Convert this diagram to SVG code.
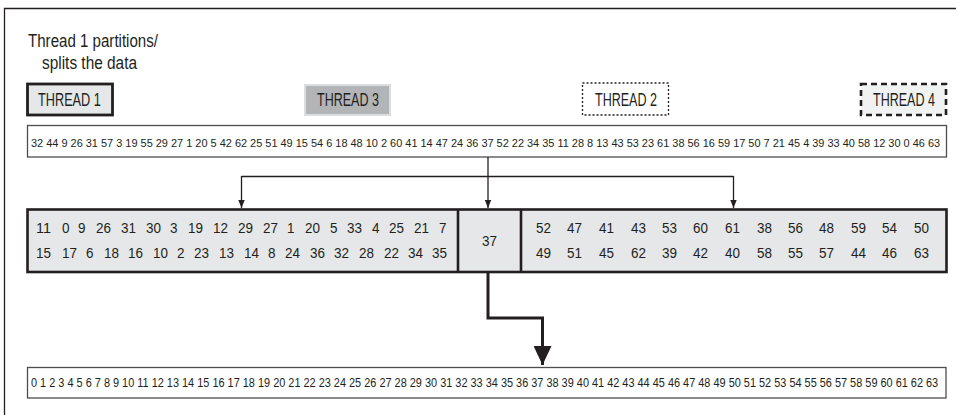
<svg xmlns="http://www.w3.org/2000/svg" width="959" height="415" viewBox="0 0 959 415">
<style>
text{font-family:"Liberation Sans",Arial,sans-serif;fill:#231f20}
.lbl{font-size:18.5px}
.th{font-size:19px}
.arr{font-size:11.5px}
.num{font-size:15.5px}
.thin{fill:none;stroke:#231f20;stroke-width:1.3}
.thick{fill:none;stroke:#231f20;stroke-width:3}
</style>
<defs>
<marker id="ah" viewBox="0 -5 10 10" refX="10" refY="0" markerWidth="10" markerHeight="8" markerUnits="userSpaceOnUse" orient="auto">
<path d="M0,-4 L10,0 L0,4 z" fill="#231f20"/>
</marker>
<marker id="ahBig" viewBox="0 -9 19 18" refX="19" refY="0" markerWidth="19" markerHeight="18" markerUnits="userSpaceOnUse" orient="auto">
<path d="M0,-9 L19,0 L0,9 z" fill="#231f20"/>
</marker>
</defs>
<rect width="959" height="415" fill="#fff"/>
<g id="frame">
<path d="M4.5,415 V8.5 H956" fill="none" stroke="#231f20" stroke-width="1.3"/>
</g>
<g id="caption">
<text class="lbl" transform="translate(28,47) scale(0.816,1)">Thread 1 partitions/</text>
<text class="lbl" transform="translate(42,68.5) scale(0.833,1)">splits the data</text>
</g>
<g id="thread1">
<rect x="27.5" y="84" width="85" height="31" fill="#e6e7e8" stroke="#231f20" stroke-width="2.8"/>
<text class="th" transform="translate(38,106) scale(0.67,1)">THREAD 1</text>
</g>
<g id="thread3">
<rect x="305" y="85" width="85" height="30" fill="#b2b4b6" stroke="#dcdddf" stroke-width="2"/>
<text class="th" transform="translate(317,106) scale(0.66,1)">THREAD 3</text>
</g>
<g id="thread2">
<rect x="582.5" y="83" width="86" height="32" fill="#fff" stroke="#231f20" stroke-width="1.3" stroke-dasharray="2 2"/>
<text class="th" transform="translate(595,106) scale(0.66,1)">THREAD 2</text>
</g>
<g id="thread4">
<rect x="861" y="84" width="85" height="31" fill="#f1f2f2" stroke="#231f20" stroke-width="2.6" stroke-dasharray="6 4"/>
<text class="th" transform="translate(873,106) scale(0.66,1)">THREAD 4</text>
</g>
<g id="input-array">
<rect x="27.5" y="125.5" width="919" height="31.5" fill="#fff" stroke="#4d4d4f" stroke-width="1.3"/>
<text class="arr" transform="translate(31,147) scale(0.953,1)">32 44 9 26 31 57 3 19 55 29 27 1 20 5 42 62 25 51 49 15 54 6 18 48 10 2 60 41 14 47 24 36 37 52 22 34 35 11 28 8 13 43 53 23 61 38 56 16 59 17 50 7 21 45 4 39 33 40 58 12 30 0 46 63</text>
</g>
<g id="partitions">
<rect x="27.5" y="209.5" width="919" height="62.5" fill="#e6e7e8" stroke="#231f20" stroke-width="2.6"/>
<line x1="458" y1="209.5" x2="458" y2="272" stroke="#231f20" stroke-width="2.6"/>
<line x1="521" y1="209.5" x2="521" y2="272" stroke="#231f20" stroke-width="2.6"/>
</g>
<g id="left-partition">
<text class="num" x="36" y="233" textLength="15" lengthAdjust="spacingAndGlyphs">11</text>
<text class="num" x="62" y="233" textLength="7.5" lengthAdjust="spacingAndGlyphs">0</text>
<text class="num" x="78" y="233" textLength="7.5" lengthAdjust="spacingAndGlyphs">9</text>
<text class="num" x="96" y="233" textLength="15" lengthAdjust="spacingAndGlyphs">26</text>
<text class="num" x="121" y="233" textLength="15" lengthAdjust="spacingAndGlyphs">31</text>
<text class="num" x="146" y="233" textLength="15" lengthAdjust="spacingAndGlyphs">30</text>
<text class="num" x="170" y="233" textLength="7.5" lengthAdjust="spacingAndGlyphs">3</text>
<text class="num" x="188" y="233" textLength="15" lengthAdjust="spacingAndGlyphs">19</text>
<text class="num" x="213" y="233" textLength="15" lengthAdjust="spacingAndGlyphs">12</text>
<text class="num" x="238" y="233" textLength="15" lengthAdjust="spacingAndGlyphs">29</text>
<text class="num" x="263" y="233" textLength="15" lengthAdjust="spacingAndGlyphs">27</text>
<text class="num" x="287" y="233" textLength="7.5" lengthAdjust="spacingAndGlyphs">1</text>
<text class="num" x="305" y="233" textLength="15" lengthAdjust="spacingAndGlyphs">20</text>
<text class="num" x="330" y="233" textLength="7.5" lengthAdjust="spacingAndGlyphs">5</text>
<text class="num" x="347" y="233" textLength="15" lengthAdjust="spacingAndGlyphs">33</text>
<text class="num" x="372" y="233" textLength="7.5" lengthAdjust="spacingAndGlyphs">4</text>
<text class="num" x="389" y="233" textLength="15" lengthAdjust="spacingAndGlyphs">25</text>
<text class="num" x="414" y="233" textLength="15" lengthAdjust="spacingAndGlyphs">21</text>
<text class="num" x="439" y="233" textLength="7.5" lengthAdjust="spacingAndGlyphs">7</text>
<text class="num" x="36" y="258" textLength="15" lengthAdjust="spacingAndGlyphs">15</text>
<text class="num" x="62" y="258" textLength="15" lengthAdjust="spacingAndGlyphs">17</text>
<text class="num" x="86" y="258" textLength="7.5" lengthAdjust="spacingAndGlyphs">6</text>
<text class="num" x="104" y="258" textLength="15" lengthAdjust="spacingAndGlyphs">18</text>
<text class="num" x="128" y="258" textLength="15" lengthAdjust="spacingAndGlyphs">16</text>
<text class="num" x="153" y="258" textLength="15" lengthAdjust="spacingAndGlyphs">10</text>
<text class="num" x="177" y="258" textLength="7.5" lengthAdjust="spacingAndGlyphs">2</text>
<text class="num" x="194" y="258" textLength="15" lengthAdjust="spacingAndGlyphs">23</text>
<text class="num" x="219" y="258" textLength="15" lengthAdjust="spacingAndGlyphs">13</text>
<text class="num" x="244" y="258" textLength="15" lengthAdjust="spacingAndGlyphs">14</text>
<text class="num" x="268" y="258" textLength="7.5" lengthAdjust="spacingAndGlyphs">8</text>
<text class="num" x="285" y="258" textLength="15" lengthAdjust="spacingAndGlyphs">24</text>
<text class="num" x="310" y="258" textLength="15" lengthAdjust="spacingAndGlyphs">36</text>
<text class="num" x="334" y="258" textLength="15" lengthAdjust="spacingAndGlyphs">32</text>
<text class="num" x="359" y="258" textLength="15" lengthAdjust="spacingAndGlyphs">28</text>
<text class="num" x="384" y="258" textLength="15" lengthAdjust="spacingAndGlyphs">22</text>
<text class="num" x="408" y="258" textLength="15" lengthAdjust="spacingAndGlyphs">34</text>
<text class="num" x="432" y="258" textLength="15" lengthAdjust="spacingAndGlyphs">35</text>
</g>
<g id="pivot">
<text class="num" x="482" y="246" textLength="15" lengthAdjust="spacingAndGlyphs">37</text>
</g>
<g id="right-partition">
<text class="num" x="536" y="233" textLength="15" lengthAdjust="spacingAndGlyphs">52</text>
<text class="num" x="567" y="233" textLength="15" lengthAdjust="spacingAndGlyphs">47</text>
<text class="num" x="599" y="233" textLength="15" lengthAdjust="spacingAndGlyphs">41</text>
<text class="num" x="631" y="233" textLength="15" lengthAdjust="spacingAndGlyphs">43</text>
<text class="num" x="662" y="233" textLength="15" lengthAdjust="spacingAndGlyphs">53</text>
<text class="num" x="693" y="233" textLength="15" lengthAdjust="spacingAndGlyphs">60</text>
<text class="num" x="725" y="233" textLength="15" lengthAdjust="spacingAndGlyphs">61</text>
<text class="num" x="757" y="233" textLength="15" lengthAdjust="spacingAndGlyphs">38</text>
<text class="num" x="788" y="233" textLength="15" lengthAdjust="spacingAndGlyphs">56</text>
<text class="num" x="819" y="233" textLength="15" lengthAdjust="spacingAndGlyphs">48</text>
<text class="num" x="851" y="233" textLength="15" lengthAdjust="spacingAndGlyphs">59</text>
<text class="num" x="882" y="233" textLength="15" lengthAdjust="spacingAndGlyphs">54</text>
<text class="num" x="914" y="233" textLength="15" lengthAdjust="spacingAndGlyphs">50</text>
<text class="num" x="536" y="258" textLength="15" lengthAdjust="spacingAndGlyphs">49</text>
<text class="num" x="567" y="258" textLength="15" lengthAdjust="spacingAndGlyphs">51</text>
<text class="num" x="599" y="258" textLength="15" lengthAdjust="spacingAndGlyphs">45</text>
<text class="num" x="631" y="258" textLength="15" lengthAdjust="spacingAndGlyphs">62</text>
<text class="num" x="662" y="258" textLength="15" lengthAdjust="spacingAndGlyphs">39</text>
<text class="num" x="693" y="258" textLength="15" lengthAdjust="spacingAndGlyphs">42</text>
<text class="num" x="725" y="258" textLength="15" lengthAdjust="spacingAndGlyphs">40</text>
<text class="num" x="757" y="258" textLength="15" lengthAdjust="spacingAndGlyphs">58</text>
<text class="num" x="788" y="258" textLength="15" lengthAdjust="spacingAndGlyphs">55</text>
<text class="num" x="819" y="258" textLength="15" lengthAdjust="spacingAndGlyphs">57</text>
<text class="num" x="851" y="258" textLength="15" lengthAdjust="spacingAndGlyphs">44</text>
<text class="num" x="882" y="258" textLength="15" lengthAdjust="spacingAndGlyphs">46</text>
<text class="num" x="914" y="258" textLength="15" lengthAdjust="spacingAndGlyphs">63</text>
</g>
<g id="output-array">
<rect x="27.5" y="367.5" width="918.5" height="30.5" fill="#fff" stroke="#4d4d4f" stroke-width="1.3"/>
<text class="arr" transform="translate(31,387) scale(0.911,1)" style="font-size:12px">0 1 2 3 4 5 6 7 8 9 10 11 12 13 14 15 16 17 18 19 20 21 22 23 24 25 26 27 28 29 30 31 32 33 34 35 36 37 38 39 40 41 42 43 44 45 46 47 48 49 50 51 52 53 54 55 56 57 58 59 60 61 62 63</text>
</g>
<g id="connectors">
<path class="thin" d="M241.5,176.5 H733.5"/>
<path class="thin" d="M488,157 V208" marker-end="url(#ah)"/>
<path class="thin" d="M241.5,176 V208" marker-end="url(#ah)"/>
<path class="thin" d="M733.5,176 V208" marker-end="url(#ah)"/>
<path class="thick" d="M488,272 V318 H542.5 V365" marker-end="url(#ahBig)"/>
</g>
</svg>
